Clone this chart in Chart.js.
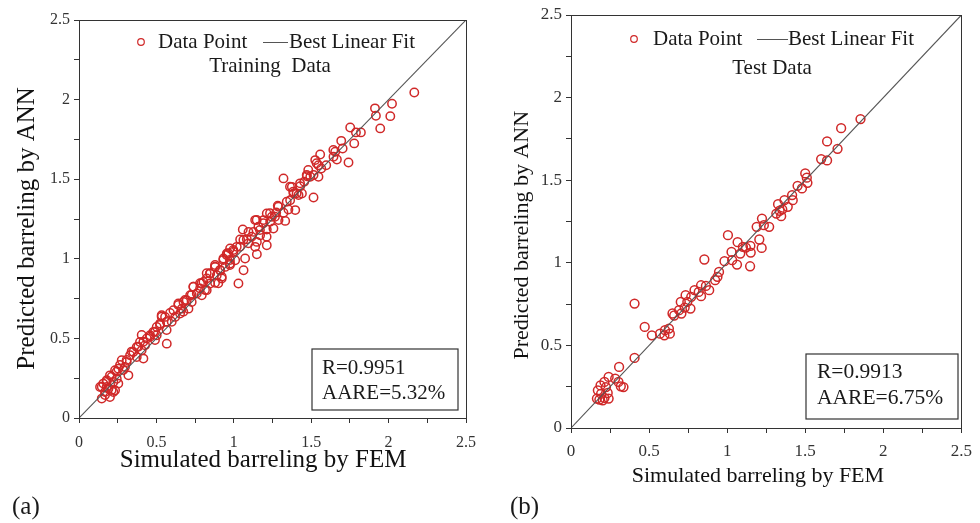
<!DOCTYPE html>
<html><head><meta charset="utf-8">
<script src="https://cdn.jsdelivr.net/npm/chart.js@4.4.1/dist/chart.umd.min.js"></script>
<style>
html,body{margin:0;padding:0;background:#fff;width:980px;height:523px;overflow:hidden}
canvas{position:absolute;top:0}
#c1{left:0}
#c2{left:490px}
</style></head><body>
<canvas id="c1" width="490" height="523"></canvas>
<canvas id="c2" width="490" height="523"></canvas>
<script>
// ---------- data ----------
const tickLabels = ['0','','0.5','','1','','1.5','','2','','2.5'];
const fitX = [0, 2.5];
const fitY = [0, 2.5];

const trainFEM = [2.166,2.022,2.011,1.912,1.918,1.946,1.821,1.789,1.752,1.778,1.694,1.703,1.741,1.655,1.644,1.666,1.558,1.526,1.547,1.597,
1.565,1.547,1.515,1.472,1.494,1.455,1.515,1.321,1.429,1.375,1.386,1.418,1.440,1.364,1.397,1.353,1.284,1.321,1.274,1.332,
1.289,1.246,1.213,1.235,1.192,1.256,1.213,1.138,1.159,1.127,1.170,1.213,1.149,1.138,1.149,1.058,1.095,1.084,1.041,1.019,
0.976,0.998,1.073,1.063,1.030,0.955,0.933,0.976,1.009,0.944,0.912,0.879,0.890,0.847,0.922,0.879,0.825,0.847,0.804,0.782,
0.739,0.825,0.761,0.793,0.718,0.696,0.728,0.675,0.642,0.664,0.707,0.610,0.653,0.588,0.621,0.556,0.534,0.567,0.524,0.502,
0.567,0.481,0.459,0.502,0.438,0.394,0.427,0.373,0.405,0.351,0.373,0.416,0.330,0.308,0.276,0.254,0.297,0.319,0.233,0.200,
0.244,0.222,0.179,0.254,0.157,0.136,0.190,0.233,0.168,0.147,0.200,0.222,0.179,
0.147,0.179,0.211,0.243,0.265,0.308,0.340,0.383,0.416,0.459,0.491,0.523,0.534,0.599,0.642,0.685,0.739,0.792,0.846,0.879,
0.965,0.211,0.168,0.286,0.405,0.491,0.566,0.674,0.728,0.814,0.922,0.900,0.975,
1.535,1.471,1.363,1.406,1.288,1.234,1.148,1.169,1.212,1.115,1.062,0.997,0.954,0.932,0.879,0.825,0.782,0.911,0.975,1.040,
1.094,1.191,1.266,1.342,1.384,1.428,1.481,1.643];
const trainANN = [2.045,1.974,1.896,1.945,1.899,1.819,1.794,1.794,1.825,1.725,1.741,1.693,1.605,1.672,1.641,1.624,1.655,1.620,1.588,1.588,
1.567,1.515,1.526,1.519,1.515,1.484,1.385,1.505,1.456,1.452,1.410,1.400,1.410,1.368,1.306,1.310,1.333,1.289,1.291,1.238,
1.243,1.264,1.285,1.232,1.243,1.190,1.184,1.243,1.201,1.169,1.148,1.085,1.106,1.075,1.029,1.184,1.169,1.123,1.121,1.075,
1.065,1.044,1.002,0.928,0.845,1.033,1.002,0.970,0.991,0.949,0.928,0.949,0.897,0.907,0.876,0.849,0.876,0.845,0.855,0.813,
0.824,0.803,0.782,0.771,0.771,0.740,0.729,0.729,0.719,0.687,0.687,0.677,0.656,0.660,0.635,0.635,0.645,0.604,0.593,0.572,
0.467,0.541,0.520,0.520,0.499,0.478,0.457,0.446,0.425,0.415,0.383,0.373,0.394,0.352,0.363,0.310,0.321,0.268,0.300,0.268,
0.247,0.226,0.237,0.216,0.216,0.195,0.184,0.174,0.163,0.122,0.132,0.163,0.195,
0.197,0.228,0.259,0.291,0.333,0.364,0.417,0.448,0.479,0.511,0.542,0.584,0.636,0.605,0.710,0.741,0.825,0.846,0.909,0.961,
1.035,0.176,0.144,0.301,0.521,0.490,0.553,0.668,0.773,0.804,0.888,0.846,0.961,
1.600,1.526,1.453,1.411,1.327,1.286,1.244,1.181,1.139,1.139,1.118,1.055,1.024,0.992,0.950,0.909,0.846,0.930,0.992,1.076,
1.097,1.223,1.264,1.359,1.422,1.474,1.558,1.683];

const testFEM = [1.854,1.730,1.640,1.707,1.602,1.640,1.500,1.510,1.479,1.451,1.514,1.416,1.420,1.367,1.326,1.336,1.353,1.346,1.315,1.388,
1.223,1.189,1.235,1.269,1.206,1.221,1.005,1.067,1.101,1.028,1.084,1.149,1.151,1.120,0.854,0.983,1.032,1.063,1.147,0.948,
0.938,0.923,0.885,0.833,0.864,0.818,0.791,0.833,0.734,0.770,0.703,0.745,0.728,0.765,0.692,0.707,0.407,0.650,0.661,0.472,
0.518,0.570,0.602,0.627,0.633,0.598,0.407,0.308,0.241,0.283,0.304,0.336,0.319,0.214,0.189,0.224,0.172,0.235,0.193,0.166,
0.214,0.241,0.203,0.182];
const testANN = [1.870,1.815,1.735,1.690,1.628,1.620,1.541,1.515,1.450,1.466,1.484,1.410,1.379,1.379,1.355,1.315,1.323,1.282,1.298,1.339,
1.268,1.218,1.228,1.218,1.141,1.090,1.167,1.125,1.097,1.066,1.056,1.103,1.062,1.092,1.020,1.010,1.016,0.989,0.979,0.945,
0.915,0.895,0.834,0.864,0.860,0.824,0.834,0.798,0.804,0.794,0.763,0.763,0.729,0.723,0.713,0.693,0.753,0.693,0.681,0.612,
0.561,0.571,0.592,0.602,0.571,0.561,0.424,0.370,0.309,0.299,0.279,0.248,0.252,0.279,0.258,0.248,0.228,0.212,0.208,0.178,
0.182,0.178,0.168,0.172];

const legendLabels = ['Data Point', 'Best Linear Fit'];
const statsA = ['R=0.9951', 'AARE=5.32%'];
const statsB = ['R=0.9913', 'AARE=6.75%'];

// ---------- helpers ----------
const SERIF = "'Liberation Serif', 'Times New Roman', serif";
const RED = 'rgb(208,40,40)';
const LINEC = '#555';
const AXC = '#333';

const annotPlugin = {
  id: 'annot',
  afterDraw(chart, args, o) {
    const {ctx, chartArea: a} = chart;
    ctx.save();
    ctx.strokeStyle = AXC; ctx.lineWidth = 1;
    ctx.strokeRect(Math.round(a.left) + 0.5, Math.round(a.top) + 0.5, Math.round(a.right - a.left), Math.round(a.bottom - a.top));
    const ptDs = chart.data.datasets[1];
    const lnDs = chart.data.datasets[0];
    ctx.font = o.fontSize + 'px ' + SERIF;
    ctx.fillStyle = '#1a1a1a';
    ctx.textBaseline = 'middle';
    ctx.textAlign = 'left';
    ctx.beginPath();
    ctx.strokeStyle = ptDs.borderColor; ctx.lineWidth = 1.2;
    ctx.arc(o.lg.mx, o.lg.y, 3.3, 0, Math.PI * 2);
    ctx.stroke();
    ctx.fillText(legendLabels[0], o.lg.t1, o.lg.y);
    ctx.beginPath();
    ctx.strokeStyle = lnDs.borderColor; ctx.lineWidth = 1;
    ctx.moveTo(o.lg.l1, o.lg.y + 0.5); ctx.lineTo(o.lg.l2, o.lg.y + 0.5);
    ctx.stroke();
    ctx.fillText(legendLabels[1], o.lg.t2, o.lg.y);
    ctx.textAlign = 'center';
    ctx.fillText(o.sub.text, o.sub.x, o.sub.y);
    ctx.strokeStyle = AXC; ctx.lineWidth = 1.2;
    ctx.strokeRect(o.box.x1, o.box.y1, o.box.x2 - o.box.x1, o.box.y2 - o.box.y1);
    ctx.textAlign = 'left';
    ctx.font = o.boxFont + 'px ' + SERIF;
    o.box.lines.forEach((t, i) => ctx.fillText(t, o.box.tx, o.box.ys[i]));
    ctx.font = '25px ' + SERIF;
    ctx.fillText(o.tag.text, o.tag.x, o.tag.y);
    ctx.restore();
  }
};

function makeChart(id, fem, ann, c) {
  const pts = fem.map((x, i) => ({x: x, y: ann[i]}));
  const line = fitX.map((x, i) => ({x: x, y: fitY[i]}));
  return new Chart(document.getElementById(id), {
    type: 'scatter',
    data: {datasets: [
      {label: legendLabels[1], data: line, showLine: true, borderColor: LINEC, borderWidth: 1.1, pointRadius: 0, fill: false},
      {label: legendLabels[0], data: pts, borderColor: RED, backgroundColor: 'rgba(255,255,255,0)', borderWidth: 1.5, pointRadius: c.pr}
    ]},
    options: {
      responsive: false, animation: false,
      layout: {padding: {left: 0, top: c.top, right: c.right, bottom: 0}},
      plugins: {legend: {display: false}, tooltip: {enabled: false}, annot: c.annot},
      scales: {
        x: {
          type: 'linear', min: 0, max: 2.5,
          afterFit: s => { s.height = c.xh; },
          grid: {display: true, drawOnChartArea: false, drawTicks: true, tickLength: 5, tickColor: AXC, color: AXC},
          border: {display: true, color: AXC, width: 1},
          ticks: {stepSize: 0.25, autoSkip: false, maxRotation: 0, padding: c.xtp, color: '#333',
                  font: {family: SERIF, size: c.tickFont}, callback: (v, i) => tickLabels[i]},
          title: {display: true, text: c.xTitle, color: '#111', font: {family: SERIF, size: c.titleFont},
                  padding: {top: 0, bottom: c.xTitlePad}}
        },
        y: {
          type: 'linear', min: 0, max: 2.5,
          afterFit: s => { s.width = c.yw; },
          grid: {display: true, drawOnChartArea: false, drawTicks: true, tickLength: 5, tickColor: AXC, color: AXC},
          border: {display: true, color: AXC, width: 1},
          ticks: {stepSize: 0.25, autoSkip: false, padding: 4, color: '#333',
                  font: {family: SERIF, size: c.tickFont}, callback: (v, i) => tickLabels[i]},
          title: {display: true, text: c.yTitle, color: '#111', font: {family: SERIF, size: c.titleFont},
                  padding: {top: c.yTitlePad, bottom: 0}}
        }
      }
    },
    plugins: [annotPlugin]
  });
}

makeChart('c1', trainFEM, trainANN, {
  pr: 4.2, top: 20, right: 24, xh: 105, yw: 79, xtp: 10, tickFont: 16, titleFont: 25,
  xTitle: 'Simulated barreling by FEM   ', xTitlePad: 48,
  yTitle: 'Predicted barreling by ANN   ', yTitlePad: 12.5,
  annot: {
    fontSize: 21, boxFont: 21,
    lg: {mx: 141, y: 42, t1: 158, l1: 263, l2: 288, t2: 289},
    sub: {text: 'Training  Data', x: 270, y: 66},
    box: {x1: 312, y1: 349, x2: 458, y2: 410, tx: 322, ys: [368, 393], lines: statsA},
    tag: {text: '(a)', x: 12, y: 507}
  }
});

makeChart('c2', testFEM, testANN, {
  pr: 4.4, top: 15, right: 12, xh: 95, yw: 81, xtp: 8, tickFont: 17, titleFont: 22,
  xTitle: 'Simulated barreling by FEM   ', xTitlePad: 34,
  yTitle: 'Predicted barreling by ANN     ', yTitlePad: 19,
  annot: {
    fontSize: 21, boxFont: 21.5,
    lg: {mx: 144, y: 39, t1: 163, l1: 267, l2: 298, t2: 298},
    sub: {text: 'Test Data', x: 282, y: 68},
    box: {x1: 316, y1: 354, x2: 468, y2: 419, tx: 327, ys: [372, 398], lines: statsB},
    tag: {text: '(b)', x: 20, y: 507}
  }
});
</script>
</body></html>
